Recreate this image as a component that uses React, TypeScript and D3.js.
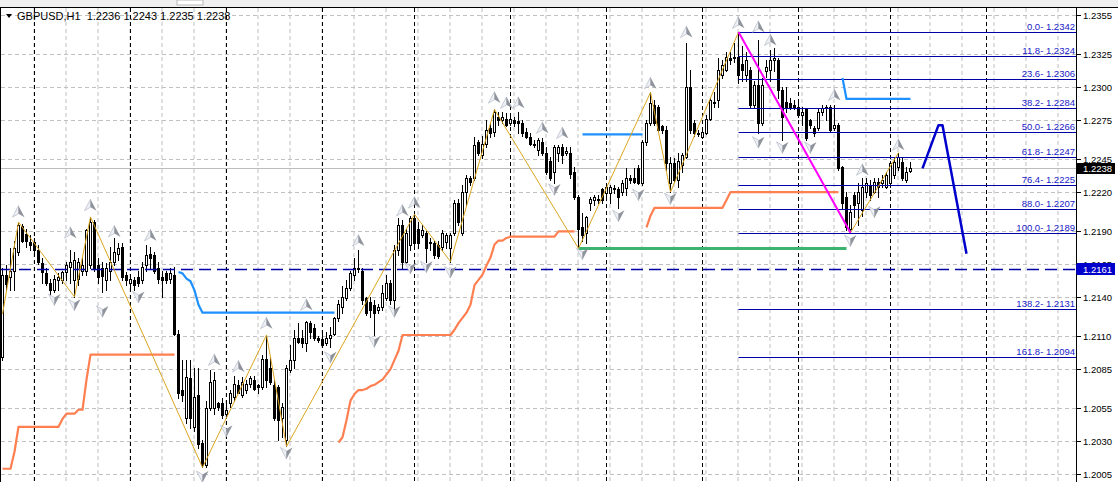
import React from "react";
import * as d3 from "d3";

// ---------- DATA (pips above 1.2000, price = 1 + pips/10000) ----------
const OPEN = [
  2094, 2157, 2155, 2160, 2174, 2194, 2188, 2182, 2182, 2176, 2166, 2158, 2151, 2145, 2153, 2153, 2159, 2163, 2153, 2154,
  2160, 2160, 2164, 2197, 2164, 2162, 2153, 2160, 2167, 2173, 2178, 2157, 2151, 2153, 2155, 2153, 2164, 2173, 2172, 2162,
  2155, 2158, 2154, 2157, 2112, 2069, 2048, 2078, 2041, 2065, 2029, 2012, 2055, 2055, 2059, 2059, 2051, 2059, 2064, 2073,
  2065, 2069, 2074, 2077, 2073, 2071, 2093, 2086, 2073, 2071, 2048, 2031, 2084, 2092, 2109, 2109, 2105, 2120, 2116, 2109,
  2108, 2105, 2109, 2112, 2124, 2132, 2139, 2147, 2157, 2162, 2160, 2139, 2136, 2134, 2130, 2132, 2139, 2151, 2138, 2176,
  2195, 2167, 2180, 2200, 2192, 2187, 2189, 2182, 2181, 2180, 2178, 2182, 2177, 2189, 2212, 2189, 2220, 2231, 2231, 2258,
  2248, 2257, 2269, 2266, 2277, 2275, 2276, 2273, 2275, 2274, 2273, 2266, 2262, 2257, 2252, 2258, 2250, 2244, 2235, 2250,
  2254, 2250, 2250, 2235, 2216, 2193, 2189, 2212, 2214, 2215, 2222, 2219, 2219, 2222, 2222, 2220, 2223, 2231, 2231, 2238,
  2227, 2258, 2273, 2286, 2285, 2270, 2267, 2227, 2242, 2229, 2241, 2247, 2300, 2273, 2265, 2262, 2265, 2276, 2289, 2290,
  2309, 2313, 2322, 2323, 2323, 2318, 2309, 2313, 2286, 2302, 2273, 2312, 2313, 2321, 2321, 2298, 2289, 2288, 2286, 2285,
  2279, 2283, 2275, 2269, 2269, 2281, 2284, 2285, 2269, 2271, 2239, 2216, 2192, 2218, 2212, 2206, 2220, 2225, 2220, 2228,
  2227, 2224, 2227, 2233, 2239, 2243, 2229, 2236,
];
const HIGH = [
  2162, 2164, 2177, 2183, 2197, 2196, 2192, 2187, 2185, 2180, 2170, 2162, 2154, 2157, 2158, 2160, 2167, 2176, 2174, 2170,
  2170, 2192, 2201, 2199, 2170, 2167, 2166, 2178, 2185, 2181, 2181, 2159, 2157, 2155, 2160, 2167, 2180, 2178, 2174, 2167,
  2160, 2160, 2162, 2163, 2115, 2092, 2092, 2092, 2086, 2086, 2031, 2061, 2084, 2083, 2060, 2063, 2058, 2069, 2080, 2077,
  2079, 2077, 2080, 2080, 2074, 2096, 2111, 2094, 2077, 2073, 2059, 2088, 2103, 2115, 2120, 2115, 2122, 2122, 2119, 2110,
  2113, 2113, 2117, 2125, 2138, 2148, 2153, 2160, 2170, 2176, 2162, 2140, 2140, 2138, 2135, 2149, 2157, 2153, 2180, 2200,
  2199, 2192, 2202, 2203, 2197, 2195, 2190, 2185, 2183, 2183, 2191, 2189, 2189, 2214, 2215, 2225, 2233, 2232, 2262, 2260,
  2263, 2275, 2273, 2283, 2281, 2281, 2280, 2279, 2277, 2281, 2275, 2269, 2265, 2260, 2261, 2261, 2254, 2247, 2256, 2256,
  2257, 2254, 2254, 2239, 2218, 2204, 2202, 2216, 2218, 2218, 2223, 2225, 2225, 2225, 2224, 2229, 2238, 2233, 2238, 2241,
  2260, 2275, 2296, 2290, 2286, 2271, 2270, 2247, 2246, 2250, 2250, 2334, 2313, 2275, 2267, 2269, 2279, 2292, 2296, 2322,
  2321, 2327, 2327, 2334, 2342, 2331, 2327, 2315, 2305, 2336, 2307, 2321, 2328, 2330, 2322, 2300, 2300, 2292, 2290, 2288,
  2285, 2284, 2276, 2270, 2283, 2286, 2286, 2286, 2286, 2273, 2240, 2220, 2210, 2220, 2227, 2231, 2231, 2229, 2231, 2231,
  2233, 2235, 2244, 2247, 2250, 2246, 2239, 2243,
];
const LOW = [
  2092, 2145, 2145, 2145, 2172, 2182, 2178, 2176, 2174, 2165, 2151, 2149, 2141, 2144, 2145, 2151, 2153, 2151, 2140, 2149,
  2157, 2157, 2162, 2160, 2151, 2144, 2145, 2153, 2164, 2168, 2153, 2149, 2147, 2145, 2148, 2151, 2160, 2162, 2158, 2151,
  2140, 2151, 2151, 2111, 2063, 2061, 2044, 2040, 2038, 2025, 2010, 2010, 2054, 2051, 2054, 2048, 2048, 2056, 2061, 2067,
  2064, 2067, 2071, 2069, 2067, 2070, 2071, 2074, 2046, 2031, 2033, 2026, 2083, 2086, 2105, 2102, 2099, 2109, 2107, 2106,
  2102, 2103, 2102, 2111, 2122, 2128, 2138, 2145, 2153, 2159, 2135, 2126, 2125, 2111, 2128, 2130, 2138, 2135, 2130, 2172,
  2162, 2164, 2176, 2179, 2177, 2186, 2167, 2176, 2170, 2170, 2176, 2177, 2167, 2187, 2195, 2187, 2210, 2225, 2229, 2248,
  2246, 2254, 2262, 2263, 2271, 2273, 2270, 2271, 2270, 2265, 2263, 2261, 2256, 2254, 2248, 2248, 2234, 2229, 2227, 2244,
  2242, 2248, 2231, 2215, 2178, 2183, 2181, 2206, 2210, 2212, 2212, 2215, 2212, 2219, 2208, 2218, 2218, 2227, 2227, 2226,
  2225, 2256, 2271, 2271, 2266, 2265, 2237, 2220, 2228, 2224, 2235, 2246, 2265, 2263, 2263, 2261, 2264, 2275, 2285, 2285,
  2307, 2312, 2318, 2319, 2303, 2305, 2305, 2285, 2284, 2265, 2271, 2308, 2305, 2312, 2292, 2260, 2281, 2283, 2283, 2277,
  2271, 2260, 2269, 2263, 2267, 2279, 2275, 2266, 2267, 2237, 2208, 2191, 2189, 2201, 2195, 2202, 2216, 2214, 2219, 2216,
  2224, 2223, 2224, 2231, 2237, 2229, 2228, 2235,
];
const CLOSE = [
  2157, 2150, 2160, 2177, 2195, 2183, 2183, 2180, 2176, 2167, 2159, 2151, 2145, 2154, 2155, 2159, 2164, 2167, 2168, 2167,
  2164, 2191, 2197, 2162, 2155, 2156, 2162, 2167, 2174, 2177, 2155, 2153, 2154, 2149, 2151, 2163, 2172, 2170, 2160, 2154,
  2153, 2153, 2158, 2112, 2067, 2065, 2079, 2048, 2064, 2028, 2012, 2055, 2075, 2077, 2056, 2050, 2054, 2067, 2074, 2067,
  2075, 2074, 2078, 2070, 2071, 2093, 2077, 2075, 2048, 2046, 2056, 2086, 2092, 2109, 2106, 2105, 2121, 2113, 2109, 2107,
  2103, 2109, 2111, 2124, 2135, 2140, 2147, 2158, 2162, 2161, 2138, 2128, 2130, 2128, 2132, 2143, 2151, 2138, 2176, 2195,
  2167, 2189, 2200, 2181, 2181, 2191, 2177, 2181, 2172, 2171, 2189, 2187, 2187, 2212, 2197, 2220, 2231, 2228, 2256, 2250,
  2257, 2267, 2265, 2281, 2275, 2277, 2271, 2276, 2273, 2273, 2265, 2262, 2257, 2256, 2260, 2250, 2235, 2231, 2254, 2254,
  2248, 2251, 2234, 2216, 2192, 2187, 2201, 2215, 2216, 2214, 2214, 2224, 2224, 2223, 2216, 2227, 2231, 2229, 2228, 2227,
  2258, 2273, 2288, 2273, 2267, 2267, 2242, 2242, 2229, 2244, 2248, 2300, 2267, 2265, 2264, 2266, 2276, 2290, 2288, 2313,
  2317, 2323, 2321, 2322, 2309, 2313, 2321, 2286, 2302, 2273, 2302, 2315, 2321, 2322, 2298, 2277, 2284, 2285, 2284, 2279,
  2281, 2261, 2271, 2265, 2281, 2284, 2285, 2267, 2271, 2238, 2212, 2193, 2205, 2210, 2220, 2224, 2227, 2218, 2228, 2224,
  2229, 2233, 2242, 2243, 2247, 2231, 2235, 2238,
];

const Y_TICKS = [2355, 2325, 2300, 2275, 2245, 2220, 2190, 2165, 2140, 2110, 2085, 2055, 2030, 2005];
const SEPARATOR_BARS = [8, 32, 56, 80, 103, 127, 151, 175, 199, 222, 246];

const ZIGZAG_BARS = [0, 4, 18, 22, 50, 66, 71, 103, 112, 123, 144, 162, 167, 184, 212, 224];
const ZIGZAG_PIPS = [2127, 2197, 2140, 2201, 2010, 2111, 2026, 2203, 2167, 2283, 2177, 2296, 2220, 2342, 2189, 2250];

const FIB_LABELS = ["0.0", "11.8", "23.6", "38.2", "50.0", "61.8", "76.4", "88.0", "100.0", "138.2", "161.8"];
const FIB_PIPS = [2342, 2324, 2306, 2284, 2266, 2247, 2225, 2207, 2189, 2131, 2094];
const FIB_START_BAR = 184;
const FIB_TREND_BARS = [184, 212];
const FIB_TREND_PIPS = [2342, 2189];

const ORANGE_1_START = 0;
const ORANGE_1 = [
  2009, 2009, 2009, 2022, 2041, 2041, 2041, 2041, 2041, 2041, 2041, 2041, 2041, 2041, 2041, 2047, 2051, 2051, 2051, 2054,
  2054, 2077, 2096, 2096, 2096, 2096, 2096, 2096, 2096, 2096, 2096, 2096, 2096, 2096, 2096, 2096, 2096, 2096, 2096, 2096,
  2096, 2096, 2096, 2096,
];
const ORANGE_2_START = 84;
const ORANGE_2 = [
  2029, 2033, 2046, 2061, 2066, 2069, 2069, 2070, 2072, 2073, 2075, 2077, 2081, 2085, 2092, 2099, 2111,
  2111, 2111, 2111, 2111, 2111, 2111, 2111, 2111, 2111, 2111, 2111, 2111,
  2115, 2120, 2124, 2128, 2134, 2149, 2153, 2157, 2164, 2170, 2180, 2183, 2183, 2185, 2186,
  2186, 2186, 2186, 2186, 2186, 2186, 2186, 2186, 2186, 2186, 2186,
  2190, 2190, 2190, 2190, 2190,
];
const ORANGE_3_START = 161;
const ORANGE_3 = [
  2193, 2202, 2208, 2208, 2208, 2208, 2208, 2208, 2208, 2208, 2208, 2208, 2208, 2208, 2208, 2208, 2208, 2208, 2208, 2208,
  2214, 2220, 2220, 2220, 2220, 2220, 2220, 2220, 2220, 2220, 2220, 2220, 2220, 2220, 2220, 2220, 2220, 2220, 2220, 2220,
  2220, 2220, 2220, 2220, 2220, 2220, 2220, 2220, 2220,
];
const BLUE_1_START = 44;
const BLUE_1 = [
  2159, 2158, 2154, 2152, 2145, 2134, 2128, 2128, 2128, 2128, 2128, 2128, 2128, 2128, 2128, 2128, 2128, 2128, 2128, 2128,
  2128, 2128, 2128, 2128, 2128, 2128, 2128, 2128, 2128, 2128, 2128, 2128, 2128, 2128, 2128, 2128, 2128, 2128, 2128, 2128,
];
const BLUE_2_START = 145;
const BLUE_2 = [2264, 2264, 2264, 2264, 2264, 2264, 2264, 2264, 2264, 2264, 2264, 2264, 2264, 2264, 2264, 2264];
const BLUE_3_START = 210;
const BLUE_3 = [2307, 2291, 2291, 2291, 2291, 2291, 2291, 2291, 2291, 2291, 2291, 2291, 2291, 2291, 2291, 2291, 2291, 2291];

const GREEN_BARS = [144, 211];
const GREEN_PIPS = [2177, 2177];
const PROJ_BARS = [230, 234, 235, 241];
const PROJ_PIPS = [2238, 2271, 2271, 2173];

const BID_PIPS = 2238;
const HLINE_PIPS = 2161;

const FRACTAL_UP_BARS = [4, 17, 22, 28, 37, 53, 59, 66, 76, 89, 100, 103, 123, 126, 129, 135, 140, 162, 171, 184, 189, 192, 208, 215, 224];
const FRACTAL_UP_PIPS = [2205, 2189, 2210, 2190, 2187, 2092, 2087, 2120, 2134, 2183, 2206, 2212, 2292, 2288, 2288, 2269, 2265, 2303, 2342, 2349, 2346, 2336, 2294, 2237, 2256];
const FRACTAL_DN_BARS = [13, 18, 25, 34, 50, 56, 71, 82, 93, 98, 102, 106, 112, 138, 145, 154, 159, 167, 189, 195, 202, 212, 218];
const FRACTAL_DN_PIPS = [2138, 2134, 2129, 2140, 2003, 2038, 2021, 2094, 2106, 2129, 2162, 2163, 2159, 2222, 2173, 2202, 2218, 2215, 2258, 2254, 2254, 2183, 2205];

const TITLE = "GBPUSD,H1  1.2236 1.2243 1.2235 1.2238";

// ---------- CHART ----------
const W = 1118;
const H = 482;
const AXIS_X = 1076.5;
const FONT = "'Liberation Sans', Arial, sans-serif";

const px = (p: number) => 1 + p / 10000;
const fmt = (p: number) => px(p).toFixed(4);

export default function App() {
  const x = d3.scaleLinear().domain([0, 1]).range([2.5, 6.5]);
  const y = d3.scaleLinear().domain([1.2005, 1.2355]).range([474, 15]);
  const Y = (p: number) => y(px(p));
  const cr = (v: number) => Math.round(v) + 0.5;

  const line = d3
    .line<[number, number]>()
    .x((d) => x(d[0]))
    .y((d) => Y(d[1]));
  const seg = (start: number, vals: number[]) => line(vals.map((v, k) => [start + k, v] as [number, number])) || "";
  const pts = (bars: number[], vals: number[]) => line(bars.map((b, k) => [b, vals[k]] as [number, number])) || "";

  const gridBars = d3.range(8, 268, 8);

  const candles = OPEN.map((o, i) => {
    const c = CLOSE[i];
    const cx = x(i);
    const yH = Math.round(Y(HIGH[i]));
    const yL = Math.round(Y(LOW[i]));
    const yO = Math.round(Y(o));
    const yC = Math.round(Y(c));
    const top = Math.min(yO, yC);
    const bot = Math.max(yO, yC);
    const bull = c >= o;
    let body;
    if (bot - top < 1) {
      body = <line x1={cx - 1.5} x2={cx + 1.5} y1={top + 0.5} y2={top + 0.5} stroke="#000" />;
    } else if (bull) {
      body = <rect x={cx - 1} y={top + 0.5} width={2} height={bot - top} fill="#fff" stroke="#000" />;
    } else {
      body = <rect x={cx - 1.5} y={top} width={3} height={bot - top + 1} fill="#000" />;
    }
    return (
      <g key={i}>
        <line x1={cx} x2={cx} y1={yH} y2={yL + 1} stroke="#000" />
        {body}
      </g>
    );
  });

  const arrowUp = (cx: number, cy: number, k: string) => (
    <g key={k} transform={`translate(${cx},${cy})`}>
      <path d="M0,-6L-6,5.5L0,2Z" fill="#eef0f5" stroke="#b3b9c6" strokeWidth={0.7} />
      <path d="M0,-6L6,5.5L0,2Z" fill="#8f949c" />
    </g>
  );
  const arrowDn = (cx: number, cy: number, k: string) => (
    <g key={k} transform={`translate(${cx},${cy})`}>
      <path d="M0,6L-6,-5.5L0,-2Z" fill="#eef0f5" stroke="#b3b9c6" strokeWidth={0.7} />
      <path d="M0,6L6,-5.5L0,-2Z" fill="#8f949c" />
    </g>
  );

  const fibX1 = x(FIB_START_BAR);

  return (
    <div style={{ position: "absolute", left: 0, top: 0 }}>
      <svg width={W} height={H} style={{ display: "block", fontFamily: FONT }}>
        <defs>
          <clipPath id="plot">
            <rect x={1} y={8} width={AXIS_X - 1} height={H - 8} />
          </clipPath>
        </defs>
        <rect x={0} y={0} width={W} height={H} fill="#fff" />
        <rect x={0} y={0} width={W} height={7} fill="#f0f0f0" />
        <rect x={177} y={0} width={26} height={5} fill="#fff" stroke="#b8b8b8" />

        <g clipPath="url(#plot)">
          {/* horizontal grid */}
          {Y_TICKS.map((t) => (
            <line key={"hg" + t} x1={1} x2={AXIS_X} y1={cr(Y(t))} y2={cr(Y(t))} stroke="#c0c0c0" strokeDasharray="4,3" />
          ))}
          {/* vertical grid */}
          {gridBars.map((b) => (
            <line key={"vg" + b} x1={x(b) - 0.5} x2={x(b) - 0.5} y1={8} y2={H} stroke="#c0c0c0" strokeDasharray="4,3" />
          ))}
          {/* period separators */}
          {SEPARATOR_BARS.map((b) => (
            <line key={"sep" + b} x1={x(b)} x2={x(b)} y1={8} y2={H} stroke="#000" strokeDasharray="4,3" />
          ))}

          {/* bid line */}
          <line x1={1} x2={AXIS_X} y1={cr(Y(BID_PIPS))} y2={cr(Y(BID_PIPS))} stroke="#bdbdbd" />

          {/* candles */}
          {candles}

          {/* horizontal dashed line */}
          <line x1={1} x2={AXIS_X} y1={cr(Y(HLINE_PIPS))} y2={cr(Y(HLINE_PIPS))} stroke="#0000a8" strokeWidth={1.6} strokeDasharray="12,6" />

          {/* fibonacci levels */}
          {FIB_PIPS.map((p, k) => (
            <line key={"fib" + k} x1={fibX1} x2={AXIS_X} y1={cr(Y(p))} y2={cr(Y(p))} stroke="#0000a8" />
          ))}

          {/* trailing stop lines */}
          <g fill="none" stroke="#ff7f50" strokeWidth={2.2} strokeLinejoin="round">
            <path d={seg(ORANGE_1_START, ORANGE_1)} />
            <path d={seg(ORANGE_2_START, ORANGE_2)} />
            <path d={seg(ORANGE_3_START, ORANGE_3)} />
          </g>
          <g fill="none" stroke="#1e90ff" strokeWidth={2.2} strokeLinejoin="round">
            <path d={seg(BLUE_1_START, BLUE_1)} />
            <path d={seg(BLUE_2_START, BLUE_2)} />
            <path d={seg(BLUE_3_START, BLUE_3)} />
          </g>
          <path d={pts(GREEN_BARS, GREEN_PIPS)} fill="none" stroke="#3cb371" strokeWidth={3} />

          {/* zigzag */}
          <path d={pts(ZIGZAG_BARS, ZIGZAG_PIPS)} fill="none" stroke="#daa520" strokeWidth={1} />

          {/* fibo trend line */}
          <path d={pts(FIB_TREND_BARS, FIB_TREND_PIPS)} fill="none" stroke="#ff00ff" strokeWidth={2} />

          {/* projection */}
          <path d={pts(PROJ_BARS, PROJ_PIPS)} fill="none" stroke="#0000cc" strokeWidth={2.5} strokeLinejoin="round" />

          {/* fractals */}
          {FRACTAL_UP_BARS.map((b, k) => arrowUp(x(b), Y(FRACTAL_UP_PIPS[k]), "fu" + k))}
          {FRACTAL_DN_BARS.map((b, k) => arrowDn(x(b), Y(FRACTAL_DN_PIPS[k]), "fd" + k))}

          {/* fib labels */}
          {FIB_PIPS.map((p, k) => (
            <text key={"fl" + k} x={1075} y={Math.round(Y(p)) - 2} textAnchor="end" fontSize={9.5} fill="#2020c8">
              {`${FIB_LABELS[k]}- ${fmt(p)}`}
            </text>
          ))}
        </g>

        {/* frame */}
        <line x1={0} x2={W} y1={7.5} y2={7.5} stroke="#000" />
        <line x1={0.5} x2={0.5} y1={7} y2={H} stroke="#000" />
        <line x1={AXIS_X} x2={AXIS_X} y1={7} y2={H} stroke="#000" />

        {/* y axis */}
        {Y_TICKS.map((t) => (
          <g key={"yt" + t}>
            <line x1={AXIS_X} x2={1081} y1={cr(Y(t))} y2={cr(Y(t))} stroke="#000" />
            <text x={1083} y={Math.round(Y(t)) + 3.5} fontSize={9.5} fill="#000">
              {fmt(t)}
            </text>
          </g>
        ))}

        {/* price tags */}
        <rect x={1076} y={Math.round(Y(HLINE_PIPS)) - 5} width={3} height={10} fill="#0000a8" />
        <rect x={1077} y={Math.round(Y(HLINE_PIPS)) - 6} width={38} height={12} fill="#0000cc" />
        <text x={1083} y={Math.round(Y(HLINE_PIPS)) + 3.5} fontSize={9.5} fill="#fff">
          {fmt(HLINE_PIPS)}
        </text>
        <rect x={1076} y={Math.round(Y(BID_PIPS)) - 5} width={3} height={10} fill="#000" />
        <rect x={1077} y={Math.round(Y(BID_PIPS)) - 5} width={38} height={11} fill="#000" />
        <text x={1083} y={Math.round(Y(BID_PIPS)) + 4} fontSize={9.5} fill="#fff">
          {fmt(BID_PIPS)}
        </text>

        {/* title */}
        <polygon points="6,14 12,14 9,18" fill="#000" />
        <text x={17} y={19.5} fontSize={11} fill="#000" style={{ whiteSpace: "pre" }}>
          {TITLE}
        </text>
      </svg>
    </div>
  );
}
